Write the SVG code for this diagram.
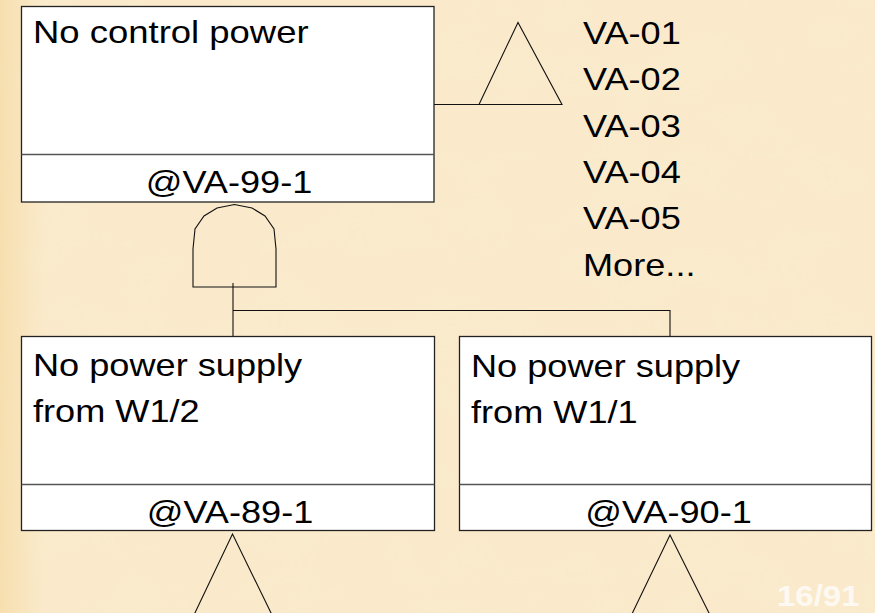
<svg xmlns="http://www.w3.org/2000/svg" width="875" height="613" viewBox="0 0 875 613">
<defs>
<filter id="paper" x="0" y="0" width="100%" height="100%">
<feTurbulence type="fractalNoise" baseFrequency="0.012 0.02" numOctaves="3" seed="7" result="n"/>
<feColorMatrix in="n" type="matrix" values="0 0 0 0 0.96  0 0 0 0 0.84  0 0 0 0 0.62  0 0 0 1.1 -0.45" result="c"/>
<feComposite in="c" in2="SourceGraphic" operator="in"/>
</filter>
<linearGradient id="edge" x1="0" y1="0" x2="1" y2="0">
<stop offset="0" stop-color="#f4d79c" stop-opacity="0.6"/>
<stop offset="0.05" stop-color="#f4d79c" stop-opacity="0"/>
</linearGradient>
<style>
.box{fill:#ffffff;stroke:#222;stroke-width:1.3}
.div{stroke:#555;stroke-width:1.5}
.ln{fill:none;stroke:#111;stroke-width:1.1}
.t{font-family:"Liberation Sans",Arial,sans-serif;font-size:32px;fill:#000}
.m{text-anchor:middle}
.pg{font-family:"Liberation Sans",Arial,sans-serif;font-size:30px;font-weight:bold;fill:#ffffff;fill-opacity:0.75}
</style>
</defs>
<rect width="875" height="613" fill="#faeacb"/>
<rect width="875" height="613" fill="#fff" filter="url(#paper)"/>
<rect width="875" height="613" fill="url(#edge)"/>

<g id="connectors">
<path class="ln" d="M434,104.5 H479"/>
<path class="ln" d="M233,283 V336"/>
<path class="ln" d="M233,310.5 H670 V336"/>
</g>

<g id="transfer-top">
<path class="ln" d="M479,104.5 L518,22.5 L562,104.5 Z"/>
<g class="t">
<text transform="translate(583 43.5) scale(1.13 1)">VA-01</text>
<text transform="translate(583 90) scale(1.13 1)">VA-02</text>
<text transform="translate(583 136.5) scale(1.13 1)">VA-03</text>
<text transform="translate(583 182.5) scale(1.13 1)">VA-04</text>
<text transform="translate(583 229) scale(1.13 1)">VA-05</text>
<text transform="translate(583 275.5) scale(1.13 1)">More...</text>
</g>
</g>

<g id="node-va-99-1">
<rect class="box" x="21.5" y="6.5" width="412.5" height="195.5"/>
<line class="div" x1="21.5" y1="154.5" x2="434" y2="154.5"/>
<text class="t" transform="translate(33 42.5) scale(1.14 1)">No control power</text>
<text class="t m" transform="translate(229 193) scale(1.13 1)">@VA-99-1</text>
</g>

<g id="and-gate">
<path class="ln" d="M193,287 V249 L195,229 L204,216 L217,208 L234.5,204.5 L252,208 L265,216 L274,229 L276,249 V287 Z"/>
</g>

<g id="node-va-89-1">
<rect class="box" x="21.5" y="336.5" width="413" height="194"/>
<line class="div" x1="21.5" y1="484.5" x2="434.5" y2="484.5"/>
<text class="t" transform="translate(33 376) scale(1.13 1)">No power supply</text>
<text class="t" transform="translate(33 422) scale(1.13 1)">from W1/2</text>
<text class="t m" transform="translate(230 522.5) scale(1.13 1)">@VA-89-1</text>
<path class="ln" d="M193,617 L232.5,534 L273,617"/>
</g>

<g id="node-va-90-1">
<rect class="box" x="459.5" y="336.5" width="412" height="194"/>
<line class="div" x1="459.5" y1="484.5" x2="871.5" y2="484.5"/>
<text class="t" transform="translate(471 377) scale(1.13 1)">No power supply</text>
<text class="t" transform="translate(471 423) scale(1.13 1)">from W1/1</text>
<text class="t m" transform="translate(668.5 522.5) scale(1.13 1)">@VA-90-1</text>
<path class="ln" d="M630.5,617 L670,535 L711,617"/>
</g>

<text class="pg" transform="translate(777 606) scale(1.1 1)">16/91</text>
</svg>
